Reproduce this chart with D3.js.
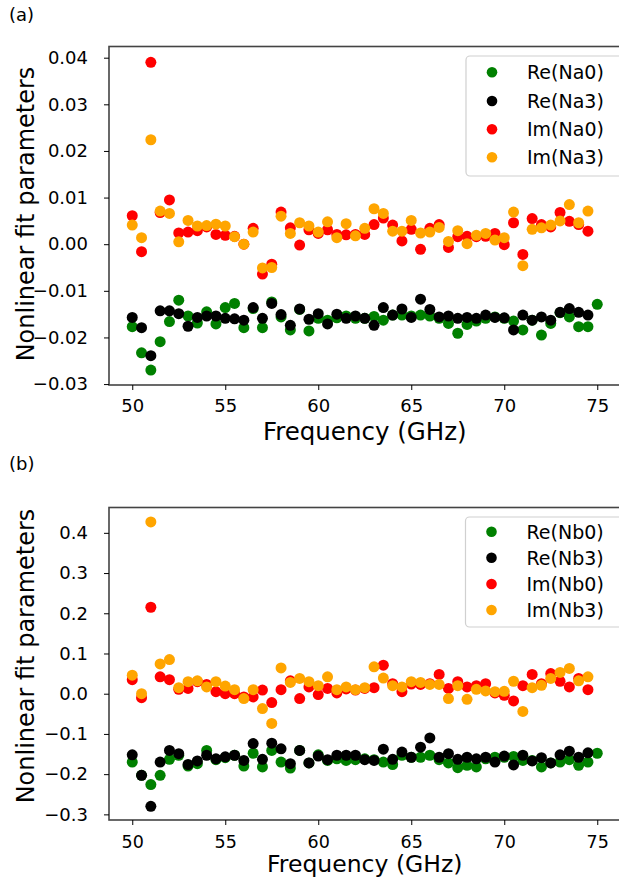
<!DOCTYPE html>
<html><head><meta charset="utf-8">
<script src="https://cdn.jsdelivr.net/npm/d3@7"></script>
<style>
html,body{margin:0;padding:0;background:#fff;}
svg{display:block;}
text{font-family:"DejaVu Sans",sans-serif;}
</style></head>
<body>
<svg id="chart" width="619" height="877"></svg>
<script>
// Frequency grid (GHz)
const freqs = [50,50.5,51,51.5,52,52.5,53,53.5,54,54.5,55,55.5,56,56.5,57,57.5,58,58.5,59,59.5,60,60.5,61,61.5,62,62.5,63,63.5,64,64.5,65,65.5,66,66.5,67,67.5,68,68.5,69,69.5,70,70.5,71,71.5,72,72.5,73,73.5,74,74.5,75];
const xTicks = [50,55,60,65,70,75];

// Panel (a)
const reNa0 = [-0.0177,-0.0233,-0.0270,-0.0209,-0.0166,-0.0120,-0.0154,-0.0169,-0.0145,-0.0171,-0.0136,-0.0127,-0.0179,-0.0138,-0.0179,-0.0124,-0.0156,-0.0184,-0.0140,-0.0186,-0.0159,-0.0163,-0.0158,-0.0154,-0.0159,-0.0159,-0.0155,-0.0163,-0.0152,-0.0152,-0.0154,-0.0152,-0.0154,-0.0159,-0.0170,-0.0191,-0.0172,-0.0165,-0.0159,-0.0156,-0.0159,-0.0165,-0.0184,-0.0163,-0.0195,-0.0170,-0.0147,-0.0156,-0.0177,-0.0177,-0.0129];
const reNa3 = [-0.0157,-0.0179,-0.0239,-0.0143,-0.0143,-0.0149,-0.0176,-0.0157,-0.0154,-0.0154,-0.0159,-0.0160,-0.0163,-0.0136,-0.0159,-0.0127,-0.0151,-0.0174,-0.0139,-0.0161,-0.0149,-0.0171,-0.0150,-0.0159,-0.0154,-0.0159,-0.0174,-0.0136,-0.0152,-0.0139,-0.0157,-0.0118,-0.0140,-0.0156,-0.0154,-0.0159,-0.0157,-0.0159,-0.0152,-0.0157,-0.0158,-0.0184,-0.0152,-0.0163,-0.0156,-0.0163,-0.0146,-0.0138,-0.0146,-0.0152];
const imNa0 = [0.0061,-0.0016,0.0390,0.0068,0.0095,0.0024,0.0026,0.0029,0.0037,0.0021,0.0019,0.0017,0.0000,0.0034,-0.0064,-0.0043,0.0069,0.0035,-0.0002,0.0031,0.0023,0.0031,0.0021,0.0020,0.0021,0.0021,0.0042,0.0056,0.0041,0.0007,0.0032,-0.0011,0.0034,0.0042,-0.0007,0.0016,0.0017,0.0016,0.0017,0.0023,-0.0001,0.0046,-0.0022,0.0055,0.0042,0.0037,0.0068,0.0049,0.0042,0.0028];
const imNa3 = [0.0041,0.0014,0.0224,0.0071,0.0066,0.0005,0.0051,0.0039,0.0040,0.0043,0.0039,0.0016,0.0000,0.0026,-0.0051,-0.0050,0.0060,0.0023,0.0046,0.0039,0.0026,0.0048,0.0014,0.0044,0.0018,0.0034,0.0076,0.0066,0.0028,0.0028,0.0051,0.0024,0.0026,0.0036,0.0006,0.0029,0.0001,0.0019,0.0023,0.0009,0.0014,0.0069,-0.0046,0.0032,0.0035,0.0041,0.0050,0.0085,0.0046,0.0071];
const yTicksA = [-0.03,-0.02,-0.01,0.00,0.01,0.02,0.03,0.04];

// Panel (b)
const reNb0 = [-0.170,-0.203,-0.226,-0.203,-0.163,-0.153,-0.180,-0.174,-0.141,-0.164,-0.159,-0.153,-0.180,-0.148,-0.182,-0.141,-0.170,-0.185,-0.141,-0.172,-0.152,-0.166,-0.162,-0.166,-0.164,-0.162,-0.164,-0.170,-0.176,-0.153,-0.158,-0.158,-0.153,-0.164,-0.172,-0.184,-0.178,-0.182,-0.162,-0.158,-0.158,-0.156,-0.166,-0.166,-0.182,-0.172,-0.170,-0.164,-0.178,-0.170,-0.148];
const reNb3 = [-0.152,-0.203,-0.280,-0.170,-0.141,-0.149,-0.176,-0.167,-0.153,-0.162,-0.157,-0.153,-0.166,-0.124,-0.163,-0.123,-0.137,-0.174,-0.141,-0.172,-0.155,-0.164,-0.153,-0.153,-0.153,-0.164,-0.166,-0.138,-0.163,-0.145,-0.158,-0.133,-0.110,-0.158,-0.149,-0.163,-0.158,-0.162,-0.158,-0.170,-0.155,-0.177,-0.153,-0.167,-0.159,-0.172,-0.152,-0.143,-0.158,-0.147];
const imNb0 = [0.035,-0.010,0.215,0.042,0.035,0.011,0.013,0.030,0.023,0.005,0.000,0.000,-0.008,-0.008,0.009,-0.022,0.010,0.032,-0.012,0.017,-0.002,0.013,0.002,0.012,0.009,0.013,0.015,0.071,0.025,0.005,0.024,0.023,0.025,0.048,0.013,0.030,0.017,0.020,0.025,0.002,-0.004,-0.018,0.020,0.048,0.025,0.050,0.031,0.017,0.038,0.010];
const imNb3 = [0.046,0.000,0.427,0.074,0.085,0.015,0.030,0.032,0.017,0.030,0.019,0.010,-0.012,0.010,-0.037,-0.074,0.064,0.028,0.038,0.030,0.020,0.042,0.010,0.017,0.010,0.015,0.067,0.039,0.020,0.017,0.030,0.028,0.023,0.023,-0.012,0.020,-0.014,0.011,0.007,0.005,0.006,0.031,-0.044,0.015,0.021,0.038,0.053,0.063,0.032,0.042];
const yTicksB = [-0.3,-0.2,-0.1,0.0,0.1,0.2,0.3,0.4];

const colors = ["green","black","red","orange"];

const svg = d3.select("#chart");

function panel(cfg){
  const x = d3.scaleLinear().domain([48.75,76.25]).range([109,620.5]);
  const y = d3.scaleLinear().domain(cfg.yDomain).range([cfg.bottom,cfg.top]);
  const g = svg.append("g");

  // data
  cfg.series.forEach((s,i)=>{
    g.append("g").selectAll("circle").data(s.values).join("circle")
      .attr("cx",(d,j)=>x(freqs[j])).attr("cy",d=>y(d))
      .attr("r",5.5).attr("fill",colors[i]);
  });

  // frame
  g.append("rect").attr("x",x.range()[0]).attr("y",cfg.top)
    .attr("width",x.range()[1]-x.range()[0]).attr("height",cfg.bottom-cfg.top)
    .attr("fill","none").attr("stroke","#444").attr("stroke-width",1.6);

  // x axis
  const xa = g.append("g").attr("transform",`translate(0,${cfg.bottom})`)
    .call(d3.axisBottom(x).tickValues(xTicks).tickSize(5).tickPadding(6).tickFormat(d3.format("d")));
  xa.select(".domain").remove();
  xa.selectAll("line").attr("stroke","#000").attr("stroke-width",1);
  xa.selectAll("text").attr("font-size",cfg.xTickFont).attr("font-family","DejaVu Sans").attr("fill","#000")
    .attr("dy",null).attr("y",cfg.xTickBase - cfg.bottom);

  // y axis
  const ya = g.append("g").attr("transform",`translate(${x.range()[0]},0)`)
    .call(d3.axisLeft(y).tickValues(cfg.yTicks).tickSize(5).tickFormat(d3.format(cfg.fmt)));
  ya.select(".domain").remove();
  ya.selectAll("line").attr("stroke","#000").attr("stroke-width",1);
  ya.selectAll("text").attr("font-size",18).attr("font-family","DejaVu Sans").attr("fill","#000")
    .attr("x",-21);

  // axis labels
  g.append("text").attr("x",(x.range()[0]+x.range()[1])/2).attr("y",cfg.xLabelBase)
    .attr("text-anchor","middle").attr("font-size",cfg.xLabelFont).text("Frequency (GHz)");
  g.append("text").attr("transform",`translate(${cfg.yLabelX},${cfg.yLabelMid}) rotate(-90)`)
    .attr("text-anchor","middle").attr("dominant-baseline","central")
    .attr("font-size",24).text("Nonlinear fit parameters");

  // panel tag
  g.append("text").attr("x",cfg.tagX).attr("y",cfg.tagY)
    .attr("font-family","Liberation Serif").attr("font-size",18).text(cfg.tag);

  // legend
  const L = cfg.legend;
  g.append("rect").attr("x",L.x).attr("y",L.y).attr("width",L.w).attr("height",L.h)
    .attr("rx",4).attr("fill","#fff").attr("fill-opacity",0.8)
    .attr("stroke","#d0d0d0").attr("stroke-width",1.2);
  cfg.series.forEach((s,i)=>{
    const cy = L.rows[i];
    g.append("circle").attr("cx",L.x+26).attr("cy",cy).attr("r",5.3).attr("fill",colors[i]);
    g.append("text").attr("x",L.x+61).attr("y",cy).attr("dominant-baseline","central")
      .attr("font-size",19).text(s.name);
  });
}

panel({
  top:46.5, bottom:385, yDomain:[-0.0302,0.0424], yTicks:yTicksA, fmt:".2f",
  xTickBase:411.5, xTickFont:18, xLabelBase:440, xLabelFont:24.5, yLabelX:26, yLabelMid:214,
  tag:"(a)", tagX:9, tagY:21,
  series:[{name:"Re(Na0)",values:reNa0},{name:"Re(Na3)",values:reNa3},{name:"Im(Na0)",values:imNa0},{name:"Im(Na3)",values:imNa3}],
  legend:{x:466,y:56,w:160,h:120,rows:[72.3,101,129.3,157.3]}
});
panel({
  top:507.5, bottom:820, yDomain:[-0.314,0.463], yTicks:yTicksB, fmt:".1f",
  xTickBase:847.5, xTickFont:17.5, xLabelBase:872, xLabelFont:23.5, yLabelX:26, yLabelMid:656,
  tag:"(b)", tagX:9, tagY:470,
  series:[{name:"Re(Nb0)",values:reNb0},{name:"Re(Nb3)",values:reNb3},{name:"Im(Nb0)",values:imNb0},{name:"Im(Nb3)",values:imNb3}],
  legend:{x:465.5,y:517,w:160,h:110,rows:[531.7,557.7,584,610]}
});
</script>
</body></html>
